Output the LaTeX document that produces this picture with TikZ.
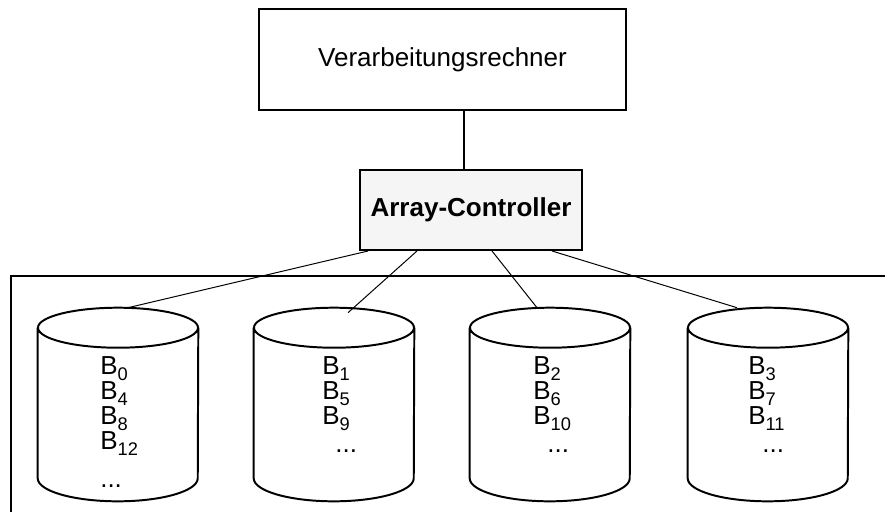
\documentclass[tikz,border=0pt]{standalone}
\usepackage{fontspec}
\setmainfont{Liberation Sans}
\usetikzlibrary{positioning, calc}
\newcommand{\blk}[1]{B\raisebox{-4pt}{\fontsize{13}{13}\selectfont #1}}

\begin{document}
\begin{tikzpicture}[
    x=0.025cm, y=-0.025cm,
    font=\fontsize{18.5}{17.8}\selectfont,
    hostbox/.style={draw, line width=1.4pt, minimum width=9.175cm, minimum height=2.525cm},
    ctrlbox/.style={draw, line width=1.4pt, fill=gray!8, minimum width=5.55cm, minimum height=2cm, font=\fontsize{18.5}{22}\selectfont\bfseries},
    disk/.style={inner sep=0pt, minimum width=4cm, minimum height=4.825cm},
    disktext/.style={anchor=north west, align=left, inner sep=0pt},
    link/.style={line width=0.7pt}
]
    \useasboundingbox (0,0) rectangle (885,522);

    \node[hostbox] (host) at (442.5,59.5) {Verarbeitungsrechner};
    \node[ctrlbox, below=1.45cm of host, xshift=0.7125cm] (ctrl) {Array-Controller};

    \draw[line width=1.4pt] ([xshift=-0.175cm]ctrl.north) -- ([xshift=-0.175cm]ctrl.north |- host.south);

    % disk array frame
    \draw[line width=1.4pt] (11,512) -- (11,276) -- (885,276);

    \node[disk] (disk0) at (118,404.5) {};
    \node[disk] (disk1) at (334,404.5) {};
    \node[disk] (disk2) at (550,404.5) {};
    \node[disk] (disk3) at (768,404.5) {};

    % cylinder outlines
    \foreach \d in {disk0,disk1,disk2,disk3}
        \draw[line width=1.4pt]
            ([yshift=-0.5cm]\d.north west) -- ([yshift=0.575cm]\d.south west)
            arc[start angle=180, end angle=360, x radius=2cm, y radius=0.575cm]
            -- ([yshift=-0.5cm]\d.north east)
            ([yshift=-0.5cm]\d.north) ellipse[x radius=2cm, y radius=0.5cm];

    \node[disktext] (blocks0) at ([shift={(-0.45cm,-1.225cm)}]disk0.north) {\blk{0}\\\blk{4}\\\blk{8}\\\blk{12}\\[0.3cm]...};
    \node[disktext] (blocks1) at ([shift={(-0.3cm,-1.225cm)}]disk1.north) {\blk{1}\\\blk{5}\\\blk{9}\\[2pt]\hspace*{0.33cm}...};
    \node[disktext] (blocks2) at ([shift={(-0.425cm,-1.225cm)}]disk2.north) {\blk{2}\\\blk{6}\\\blk{10}\\[2pt]\hspace*{0.35cm}...};
    \node[disktext] (blocks3) at ([shift={(-0.5cm,-1.225cm)}]disk3.north) {\blk{3}\\\blk{7}\\\blk{11}\\[2pt]\hspace*{0.35cm}...};

    \draw[link] ([xshift=-2.575cm]ctrl.south) -- ([xshift=0.25cm]disk0.north);
    \draw[link] ([xshift=-1.35cm]ctrl.south) -- ([shift={(0.35cm,-0.125cm)}]disk1.north);
    \draw[link] ([xshift=0.525cm]ctrl.south) -- ([xshift=-0.325cm]disk2.north);
    \draw[link] ([xshift=2.025cm]ctrl.south) -- ([xshift=-0.775cm]disk3.north);
\end{tikzpicture}
\end{document}
